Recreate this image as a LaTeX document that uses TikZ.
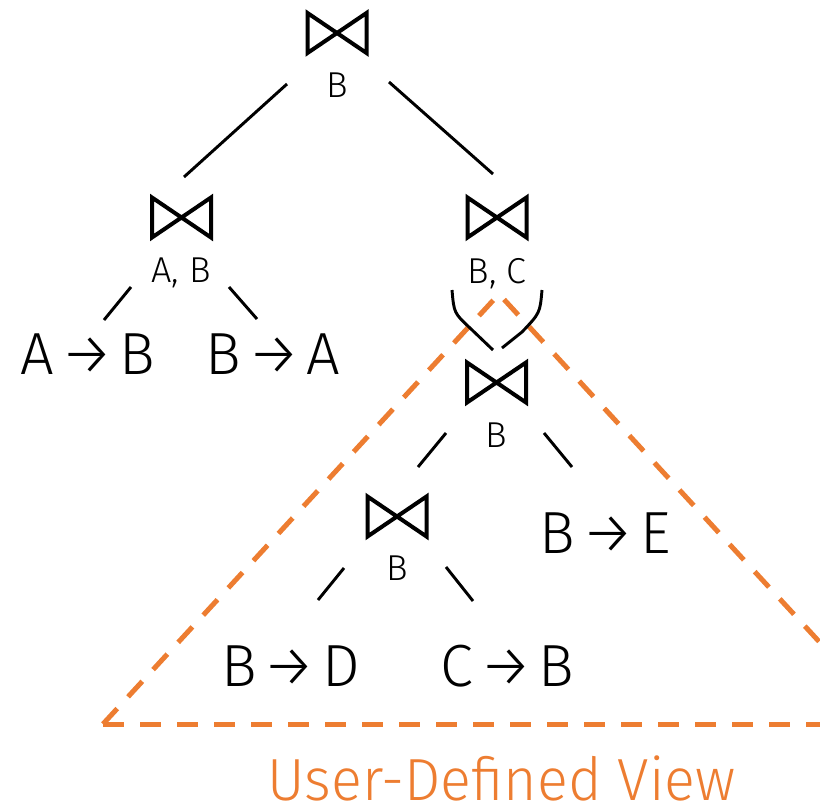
\documentclass[tikz,border=0pt]{standalone}
\usepackage{fontspec}
\setmainfont{Fira Sans Light}
\definecolor{viewor}{HTML}{ED7D31}
\newcommand{\dep}[2]{#1\kern0.1em→\kern0.1em#2}
\begin{document}
\begin{tikzpicture}[x=0.75pt,y=-0.75pt,
  bigtxt/.style={font=\fontsize{44.6}{50}\selectfont, inner sep=0pt, anchor=base},
  smalltxt/.style={font=\fontsize{27}{30}\selectfont, inner sep=0pt, anchor=base},
  viewtxt/.style={font=\fontsize{44.6}{50}\selectfont, text=viewor, inner sep=0pt, anchor=base},
  joinpt/.style={coordinate},
  bowline/.style={draw=black, line width=3pt},
  edge/.style={draw=black, line width=2.2pt},
  viewline/.style={draw=viewor, line width=3.75pt, dash pattern=on 15.75pt off 12pt},
  bowtie/.pic={\path[bowline] (-29.5,-20) -- (29.5,20) -- (29.5,-20) -- (-29.5,20) -- cycle;}
]
\useasboundingbox (0,0) rectangle (820,810);

% the view triangle, cut off at the right border
\coordinate (apex) at (499,294);
\coordinate (tl) at (103,724);
\coordinate (tr) at (895,724);
\begin{scope}
  \clip (0,0) rectangle (820,810);
  \draw[viewline] (tl) -- (apex) -- (tr);
  \draw[viewline] (tl) -- (tr);
\end{scope}

% join operators
\node[joinpt] (j1) at (337,33) {};
\node[joinpt] (j2) at (181.5,217.5) {};
\node[joinpt] (j3) at (497,217.5) {};
\node[joinpt] (j4) at (496.5,382.5) {};
\node[joinpt] (j5) at (397,516.5) {};
\foreach \j in {j1,j2,j3,j4,j5} \pic at (\j) {bowtie};

% join attributes
\node[smalltxt] (l1) at (337,97) {B};
\node[smalltxt] (l2) at (181,282) {A, B};
\node[smalltxt] (l3) at (497,283) {B, C};
\node[smalltxt] (l4) at (496,447) {B};
\node[smalltxt] (l5) at (397,580) {B};

% dependencies
\node[bigtxt] (ab) at (88,374) {\dep{A}{B}};
\node[bigtxt] (ba) at (273,374) {\dep{B}{A}};
\node[bigtxt] (be) at (605.5,553) {\dep{B}{E}};
\node[bigtxt] (bd) at (290.5,686) {\dep{B}{D}};
\node[bigtxt] (cb) at (507.5,686) {\dep{C}{B}};

\node[viewtxt] (view) at (501.5,800) {\scalebox{0.965}[1]{User-Defined View}};

% tree edges
\coordinate (e1a) at (287,84);  \coordinate (e1b) at (184,177);
\coordinate (e2a) at (389,82);  \coordinate (e2b) at (493,174);
\coordinate (e3a) at (131,287); \coordinate (e3b) at (104,320);
\coordinate (e4a) at (229,287); \coordinate (e4b) at (257,319);
\coordinate (e5a) at (452,290); \coordinate (e5b) at (493,350);
\coordinate (e6a) at (542,290); \coordinate (e6b) at (502,348);
\coordinate (e7a) at (446,433); \coordinate (e7b) at (418,467);
\coordinate (e8a) at (544,433); \coordinate (e8b) at (572,467);
\coordinate (e9a) at (344,568); \coordinate (e9b) at (318,600);
\coordinate (e10a) at (446,567); \coordinate (e10b) at (473,601);

\draw[edge] (e1a) -- (e1b);
\draw[edge] (e2a) -- (e2b);
\draw[edge] (e3a) -- (e3b);
\draw[edge] (e4a) -- (e4b);
\draw[edge] (e5a) .. controls (454,313) .. (470,328) -- (e5b);
\draw[edge] (e6a) .. controls (540,313) .. (522,332) -- (e6b);
\draw[edge] (e7a) -- (e7b);
\draw[edge] (e8a) -- (e8b);
\draw[edge] (e9a) -- (e9b);
\draw[edge] (e10a) -- (e10b);
\end{tikzpicture}
\end{document}
